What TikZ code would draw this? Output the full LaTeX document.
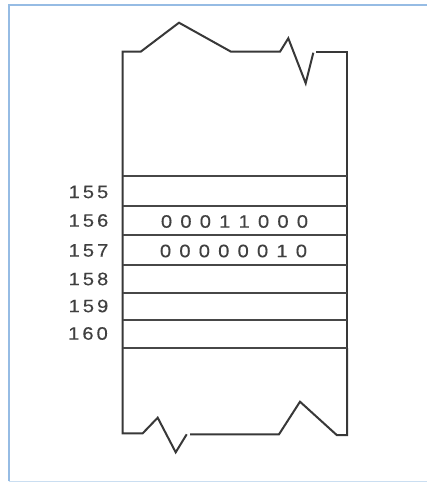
\documentclass[tikz,border=0pt]{standalone}
\usepackage{fontspec}
\setmainfont{Liberation Sans}
\newfontfamily\digfont{Liberation Sans}[FakeStretch=1.12,FakeBold=0.25]
\newcommand{\gk}{\kern3pt }
\newcommand{\widesp}{\spaceskip=8.2pt plus 0pt minus 0pt\relax}
\begin{document}
\begin{tikzpicture}[x=1pt,y=-1pt,
  outline/.style={draw=black!78,line width=2pt,line join=miter},
  rowline/.style={draw=black!72,line width=1.6pt},
  addr/.style={font=\digfont\fontsize{18}{21}\selectfont,text=black!75,inner sep=0pt},
  bits/.style={font=\digfont\fontsize{18}{21}\selectfont,text=black!75,inner sep=0pt}]
\definecolor{framebl}{RGB}{150,188,228}
\useasboundingbox (0,0) rectangle (426,482);
\fill[white] (0,0) rectangle (426,482);
% frame
\draw[framebl,line width=2pt] (8.5,481) -- (8.5,5) -- (440,5);
\draw[framebl!50,line width=1pt] (8.5,481) -- (440,481);
% top torn edge
\draw[outline] (122.5,348) -- (122.5,51.7) -- (140.7,51.7) -- (179,22.7) -- (231,51.7) -- (280,51.7) -- (288.3,38.3) -- (305.7,83.3) -- (313.3,52.7);
\draw[outline] (316,52.3) -- (347,52.3) -- (347,348);
% bottom torn edge
\draw[outline] (122.5,348) -- (122.5,433.3) -- (142.7,433.3) -- (157.7,417.7) -- (175.7,452.3) -- (186.7,434.3);
\draw[outline] (190,434.3) -- (279,434.3) -- (300,401.7) -- (336.7,435) -- (347,435) -- (347,348);
% rows
\foreach \y in {175.7,205.7,235,265,292.7,320,347.7}
  \draw[rowline] (122.5,\y) -- (347,\y);
% address labels
\node[addr] (a155) at (88.5,192) {1\gk5\gk5};
\node[addr] (a156) at (88.5,220.5) {1\gk5\gk6};
\node[addr] (a157) at (88.5,250.5) {1\gk5\gk7};
\node[addr] (a158) at (88.5,279) {1\gk5\gk8};
\node[addr] (a159) at (88.5,306) {1\gk5\gk9};
\node[addr] (a160) at (88,333.5) {1\gk6\gk0};
% contents
\node[bits] (b156) at (234.5,221.5) {\widesp 0 0 0 1 1 0 0 0};
\node[bits] (b157) at (233.5,251) {\widesp 0 0 0 0 0 0 1 0};
\end{tikzpicture}
\end{document}
